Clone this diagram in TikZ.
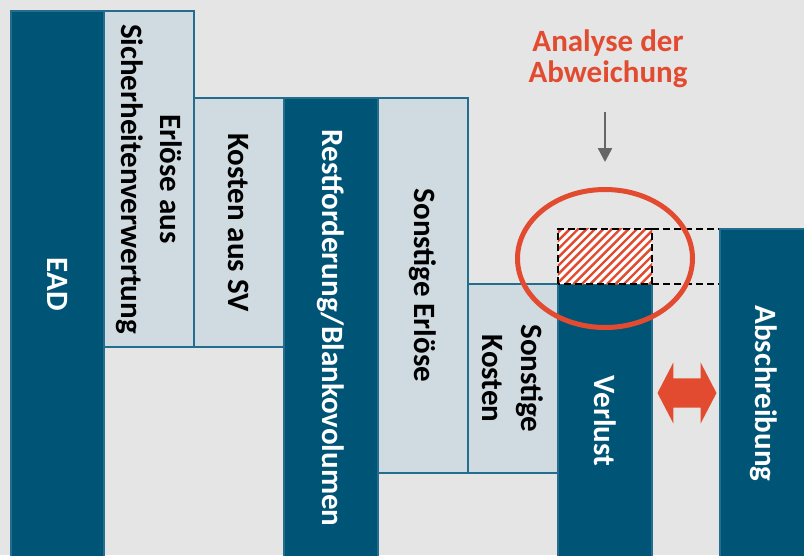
\documentclass[tikz,border=0pt]{standalone}
\usepackage{fontspec}
\setmainfont{Carlito}
\usetikzlibrary{shapes.geometric, shapes.arrows, arrows.meta}
\definecolor{bar-blue}{HTML}{005577}
\definecolor{bar-light}{HTML}{CFDAE1}
\definecolor{bar-edge}{HTML}{236E8E}
\definecolor{accent}{HTML}{E24B2F}
\definecolor{canvas}{HTML}{E5E5E5}
\definecolor{pointer}{HTML}{666666}

\begin{document}
\begin{tikzpicture}[x=1pt, y=-1pt,
        every node/.style={font=\fontsize{31}{39}\selectfont\bfseries},
        darkbar/.style={draw=bar-edge, line width=1.2pt, fill=bar-blue, text=white,
            rotate=-90, inner sep=0pt, align=center},
        lightbar/.style={draw=bar-edge, line width=1.2pt, fill=bar-light, text=black,
            rotate=-90, inner sep=0pt, align=center},
        guide/.style={black, line width=1.8pt, dash pattern=on 7pt off 4pt}]
      \fill[canvas] (0,0) rectangle (804,555);
      \useasboundingbox (0,0) rectangle (804,555);
      % columns are turned: minimum width runs down the page, minimum height across
      \node[darkbar, minimum width=547, minimum height=93] (EAD) at (57.5,284.5) {EAD};
      \node[lightbar, minimum width=336, minimum height=90] (ERL) at (149,179) {Erlöse aus\\Sicherheitenverwertung};
      \node[lightbar, minimum width=249, minimum height=90] (KSV) at (239,222.5) {Kosten aus SV};
      \node[darkbar, minimum width=460, minimum height=94] (REST) at (331,328) {Restforderung/Blankovolumen};
      \node[lightbar, minimum width=375, minimum height=90] (SERL) at (423,285.5) {Sonstige Erlöse};
      \node[lightbar, minimum width=189, minimum height=90] (SKO) at (513,378.5) {Sonstige\\Kosten};
      \node[darkbar, minimum width=274, minimum height=94] (VER) at (605,421) {Verlust};
      \node[darkbar, minimum width=329, minimum height=88] (ABS) at (764,393.5) {Abschreibung};
      % open part of the loss, striped by hand
      \node[fill=white, minimum width=94, minimum height=55, inner sep=0pt] (HATCH) at (605,256.5) {};
      \begin{scope}
        \clip (HATCH.south west) rectangle (HATCH.north east);
        \foreach \s in {0,8.4,...,160}
          \draw[accent, line width=2.4pt] ([xshift=\s pt-60pt]HATCH.south west) -- ++(60,-60);
      \end{scope}
      \draw[guide] (HATCH.south west) rectangle (HATCH.north east);
      \draw[guide] (HATCH.north east) -- (HATCH.north east -| ABS.south);
      \draw[guide] (HATCH.south east) -- (HATCH.south east -| ABS.south);
      \node[draw=accent, line width=5pt, ellipse, minimum width=175, minimum height=138,
            inner sep=0pt] (RING) at (605,258.5) {};
      \node[text=accent, align=center, font=\fontsize{31}{31}\selectfont\bfseries] (TITLE) at (608,59) {Analyse der\\Abweichung};
      \draw[pointer, line width=2.5pt, -{Triangle[length=14pt, width=14pt]},
            shorten <=20pt, shorten >=25pt] (TITLE.south -| RING.north) -- (RING.north);
      \node[double arrow, fill=accent, inner xsep=0pt, inner ysep=14.5pt, minimum height=59, minimum width=61,
            double arrow head extend=16pt, double arrow tip angle=125] (GAP) at (687,393) {};
    \end{tikzpicture}
\end{document}
